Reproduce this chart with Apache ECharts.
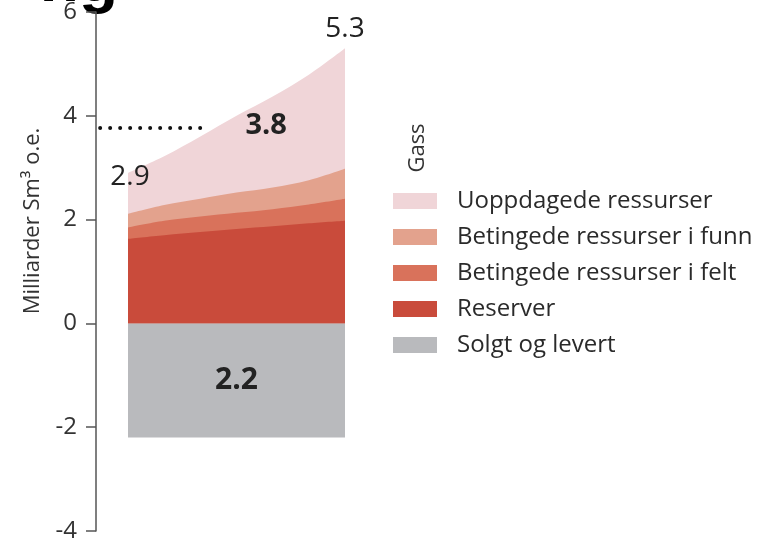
<!DOCTYPE html>
<html><head><meta charset="utf-8">
<script src="https://cdn.jsdelivr.net/npm/echarts@6/dist/echarts.min.js"></script>
<style>html,body{margin:0;padding:0;background:#fff}#c{width:779px;height:546px}</style>
</head><body><div id="c"></div>
<script>
// Positions along the horizontal extent of the area (equally spaced readings)
const positions = [0, 1, 2, 3, 4, 5, 6];
// Layer thicknesses (Milliarder Sm3 o.e.)
const reserver = [1.63, 1.70, 1.76, 1.82, 1.87, 1.93, 1.98];
const betingedeFelt = [0.22, 0.28, 0.30, 0.31, 0.33, 0.36, 0.42];
const betingedeFunn = [0.26, 0.30, 0.34, 0.39, 0.42, 0.47, 0.58];
const uoppdagede = [0.79, 0.94, 1.20, 1.48, 1.75, 2.03, 2.32];
const solgtOgLevert = [-2.2, -2.2, -2.2, -2.2, -2.2, -2.2, -2.2];
const seriesNames = ['Uoppdagede ressurser', 'Betingede ressurser i funn', 'Betingede ressurser i felt', 'Reserver', 'Solgt og levert'];
const yTickValues = [-4, -2, 0, 2, 4, 6];
// Annotations: [x, value, text]
const totalLeft = [0, 2.9, '2.9'];
const totalRight = [6, 5.3, '5.3'];
const expectedMark = [3.82, 3.8, '3.8'];
const dottedLine = [[-0.77, 3.77], [2.21, 3.77]];
const soldMark = [3, -1.1, '2.2'];

const FONT = '"Open Sans", sans-serif';
const colors = {
  uopp: '#f0d5d8', funn: '#e3a28d', felt: '#d9725b', res: '#c94b3b', solgt: '#b9babd'
};
// cumulative tops of the stacked layers (stack computed here, drawn top layer first)
const addArr = (a, b) => a.map((v, i) => v + b[i]);
const topRes = reserver;
const topFelt = addArr(topRes, betingedeFelt);
const topFunn = addArr(topFelt, betingedeFunn);
const topUopp = addArr(topFunn, uoppdagede);

const pair = (arr) => positions.map((x, i) => [x, arr[i]]);
const hidden = {symbol: 'circle', symbolSize: 1, itemStyle: {color: 'rgba(0,0,0,0)'}};

function areaSeries(name, data, color, extra) {
  return Object.assign({
    name, type: 'line', data: pair(data), smooth: 0.35,
    symbol: 'none', showSymbol: false, lineStyle: {width: 0},
    itemStyle: {color}, areaStyle: {color, opacity: 1, origin: 0}, silent: true,
    emphasis: {disabled: true}
  }, extra || {});
}

const chart = echarts.init(document.getElementById('c'), null, {renderer: 'canvas'});
chart.setOption({
  animation: false,
  grid: {left: 96, right: 434, top: 11, bottom: 15, containLabel: false},
  xAxis: {type: 'value', min: -0.885, max: 6, show: false},
  yAxis: {
    type: 'value', min: yTickValues[0], max: yTickValues[yTickValues.length - 1], interval: 2,
    axisLine: {show: true, onZero: false, lineStyle: {color: '#555', width: 1.5}},
    axisTick: {show: true, length: 10, lineStyle: {color: '#555', width: 1.5}},
    axisLabel: {fontSize: 24, color: '#333', margin: 19, fontFamily: FONT},
    splitLine: {show: false}
  },
  legend: {
    orient: 'vertical', left: 393, top: 189, padding: 0, itemWidth: 44, itemHeight: 16, itemGap: 12,
    icon: 'rect', selectedMode: false,
    textStyle: {fontSize: 24, color: '#2a2a2a', fontFamily: FONT, padding: [0, 0, 0, 15]},
    data: seriesNames
  },
  series: [
    areaSeries(seriesNames[0], topUopp, colors.uopp, {
      markPoint: {
        silent: true,
        data: [
          Object.assign({coord: [totalLeft[0], totalLeft[1]], label: {show: true, formatter: totalLeft[2], position: 'inside', offset: [2, 4], fontSize: 28, color: '#222', fontFamily: FONT}}, hidden),
          Object.assign({coord: [totalRight[0], totalRight[1]], label: {show: true, formatter: totalRight[2], position: 'top', distance: 5, fontSize: 28, color: '#222', fontFamily: FONT}}, hidden),
          Object.assign({coord: [expectedMark[0], expectedMark[1]], label: {show: true, formatter: expectedMark[2], position: 'inside', fontSize: 29, fontWeight: 'bold', color: '#222', fontFamily: FONT}}, hidden)
        ]
      },
      markLine: {
        silent: true, symbol: 'none', label: {show: false},
        lineStyle: {type: [0, 10], cap: 'round', width: 4, color: '#111'},
        data: [[{coord: dottedLine[0]}, {coord: dottedLine[1]}]]
      }
    }),
    areaSeries(seriesNames[1], topFunn, colors.funn),
    areaSeries(seriesNames[2], topFelt, colors.felt),
    areaSeries(seriesNames[3], topRes, colors.res),
    areaSeries(seriesNames[4], solgtOgLevert, colors.solgt, {
      markPoint: {
        silent: true,
        data: [
          Object.assign({coord: [soldMark[0], soldMark[1]], label: {show: true, formatter: soldMark[2], position: 'inside', fontSize: 30, fontWeight: 'bold', color: '#222', fontFamily: FONT}}, hidden)
        ]
      }
    })
  ],
  graphic: [
    {type: 'text', x: 33, y: 221, rotation: Math.PI / 2, style: {text: 'Milliarder Sm³ o.e.', fontSize: 22, fontFamily: FONT, fill: '#333', align: 'center', verticalAlign: 'middle'}},
    {type: 'text', x: 418, y: 148, rotation: Math.PI / 2, style: {text: 'Gass', fontSize: 22, fontFamily: FONT, fill: '#333', align: 'center', verticalAlign: 'middle'}},
    {type: 'text', x: 118, y: -17, z: -1, style: {text: 'ng', fontSize: 64, fontWeight: 'bold', fontFamily: '"Liberation Sans", sans-serif', fill: '#000', align: 'right', verticalAlign: 'middle'}}
  ]
});
</script></body></html>
